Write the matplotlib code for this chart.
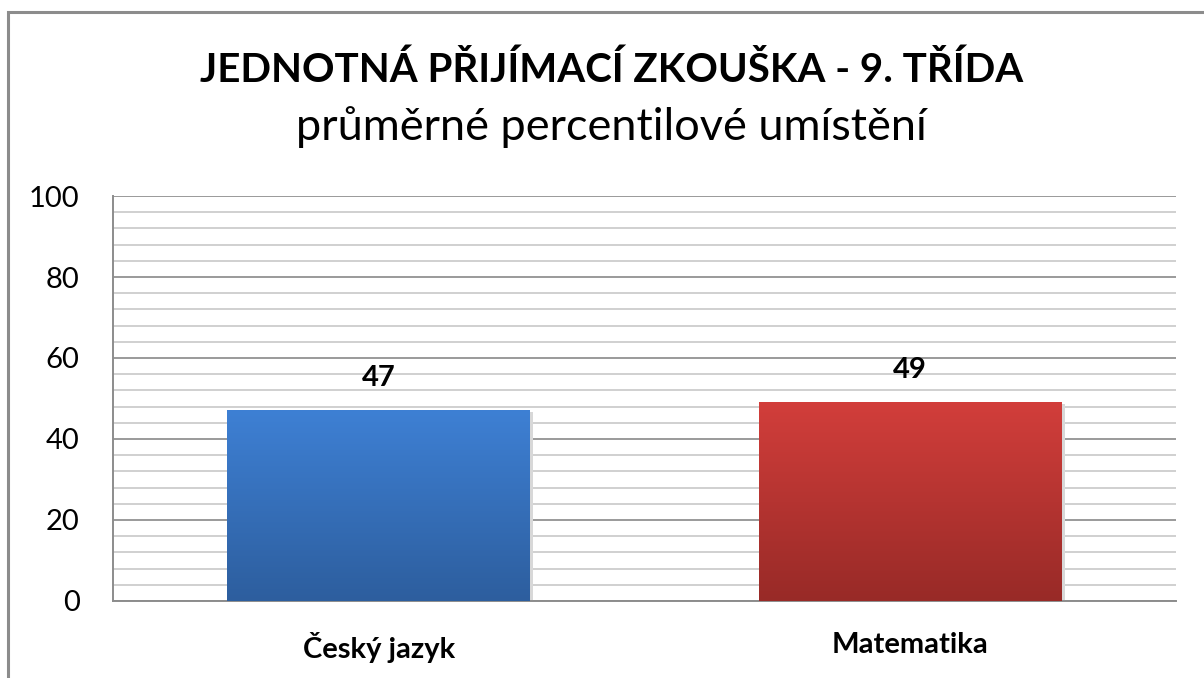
import numpy as np
import matplotlib
matplotlib.use("Agg")
import matplotlib.pyplot as plt
from matplotlib.colors import LinearSegmentedColormap
from matplotlib.patches import Rectangle

categories = ["Český jazyk", "Matematika"]
values = [47, 49]
yticks = [0, 20, 40, 60, 80, 100]
title1 = "JEDNOTNÁ PŘIJÍMACÍ ZKOUŠKA - 9. TŘÍDA"
title2 = "průměrné percentilové umístění"

bar_colors = [("#2d5e9e", "#3e80d4"), ("#982a27", "#d23e3b")]

plt.rcParams['font.family'] = ['Lato', 'DejaVu Sans']

fig = plt.figure(figsize=(12.04, 6.78), dpi=100)
ax = fig.add_axes([0.0939, 0.1136, 0.9767 - 0.0939, 0.7109 - 0.1136])

# outer chart frame (clipped on right/bottom like the screenshot)
fig.patches.append(Rectangle((8 / 1204, -0.05), 1.1, 1 - 12 / 678 + 0.05,
                             transform=fig.transFigure, fill=False,
                             edgecolor="#8c8c8c", linewidth=2.2))

ax.set_yticks(yticks)
ax.set_yticks(np.arange(0, 101, 4), minor=True)
ax.grid(axis='y', which='minor', color="#c8c8c8", linewidth=1.2)
ax.grid(axis='y', which='major', color="#9a9a9a", linewidth=1.4)
ax.set_axisbelow(True)

for s in ['top', 'right']:
    ax.spines[s].set_visible(False)
for s in ['left', 'bottom']:
    ax.spines[s].set_color("#8c8c8c")
    ax.spines[s].set_linewidth(1.4)

ax.tick_params(axis='y', which='both', length=0, pad=24, labelsize=21)
ax.tick_params(axis='x', length=0, pad=22)
ax.set_xticks([0.5, 1.5])
ax.set_xticklabels(categories, fontsize=21, fontweight='bold')

width = 0.57
grad = np.linspace(0, 1, 256).reshape(-1, 1)
for i, (v, (c0, c1)) in enumerate(zip(values, bar_colors)):
    x0 = i + 0.5 - width / 2
    # soft shadow
    ax.add_patch(Rectangle((x0 + 0.006, 0), width, v - 0.3, facecolor="#d8d8d8",
                           edgecolor='none', zorder=2))
    cmap = LinearSegmentedColormap.from_list("g%d" % i, [c0, c1])
    ax.imshow(grad, cmap=cmap, extent=(x0, x0 + width, 0, v), origin='lower',
              aspect='auto', zorder=3)
    ax.text(i + 0.5, v + 8, str(v), ha='center', va='center',
            fontsize=21, fontweight='bold', zorder=4)

ax.set_xlim(0, 2)
ax.set_ylim(0, 100)

fig.text(0.508, 1 - 70 / 678, title1, ha='center', va='center', fontsize=29,
         fontweight='bold')
fig.text(0.508, 1 - 127 / 678, title2, ha='center', va='center', fontsize=32.5)

fig.savefig("out.png", dpi=100)
